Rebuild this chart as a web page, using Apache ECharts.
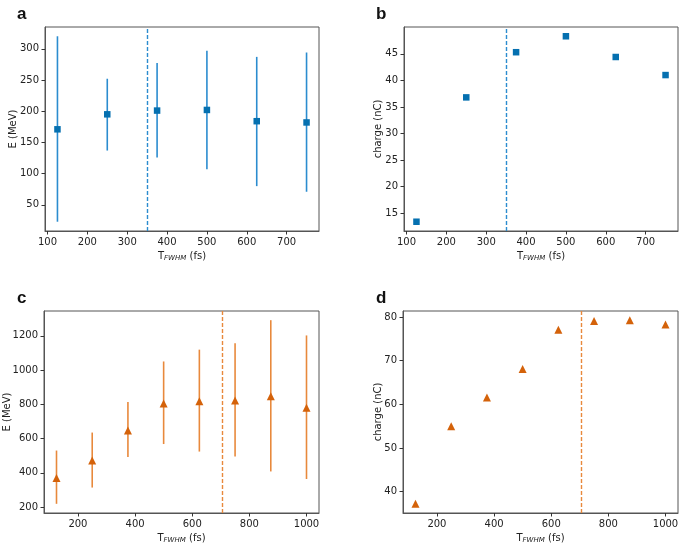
<!DOCTYPE html>
<html><head><meta charset="utf-8">
<script src="https://cdn.jsdelivr.net/npm/echarts@6/dist/echarts.min.js"></script>
<style>html,body{margin:0;padding:0;background:#fff}#c{width:685px;height:545px}</style>
</head><body><div id="c"></div>
<script>
// ---- data ----
const tAB = [125, 250, 375, 500, 625, 750];
const eA = [171, 195, 201, 202, 184, 182];
const eALow = [23, 137, 126, 107, 80, 71];
const eAHigh = [320, 252, 277, 297, 287, 294];
const qB = [13.4, 36.8, 45.3, 48.3, 44.4, 41.0];
const tCD = [125, 250, 375, 500, 625, 750, 875, 1000];
const eC = [370, 472, 647, 805, 818, 822, 847, 780];
const eCLow = [219, 314, 493, 568, 524, 495, 408, 364];
const eCHigh = [530, 635, 813, 1050, 1119, 1156, 1291, 1202];
const qD = [37.2, 55.0, 61.6, 68.1, 77.1, 79.1, 79.3, 78.3];
const thresholdAB = 351;
const thresholdCD = 705;
const ticksXAB = [100, 200, 300, 400, 500, 600, 700];
const ticksXCD = [200, 400, 600, 800, 1000];
const ticksYA = [50, 100, 150, 200, 250, 300];
const ticksYB = [15, 20, 25, 30, 35, 40, 45];
const ticksYC = [200, 400, 600, 800, 1000, 1200];
const ticksYD = [40, 50, 60, 70, 80];

const BLUE = '#0570b0', BLUE_EB = '#2b8ccf';
const ORANGE = '#d4620a', ORANGE_EB = '#e8893c';
const FONT = 'DejaVu Sans';
const FRAME = '#555';
const fmt = v => String(v);

function range(vals) {
  const mn = Math.min(...vals), mx = Math.max(...vals), m = (mx - mn) * 0.05;
  return [mn - m, mx + m];
}
function xAxis(idx, ticks, r) {
  return {
    type: 'value', gridIndex: idx, min: r[0], max: r[1],
    name: '{t|T}{s|FWHM}{t| (fs)}', nameLocation: 'middle', nameGap: 20,
    nameTextStyle: { rich: { t: { fontFamily: FONT, fontSize: 10, color: '#222' }, s: { fontFamily: FONT, fontSize: 7, fontStyle: 'italic', color: '#222', verticalAlign: 'bottom', padding: [4, 0, 0, 0] } } },
    axisLine: { show: true, onZero: false, lineStyle: { color: FRAME, width: 1 } },
    axisTick: { show: true, length: 3.5, customValues: ticks, lineStyle: { color: '#333' } },
    axisLabel: { customValues: ticks, formatter: fmt, fontFamily: FONT, fontSize: 10, color: '#222', margin: 6, showMinLabel: true, showMaxLabel: true },
    splitLine: { show: false }
  };
}
function yAxis(idx, ticks, r, name, gap) {
  return {
    type: 'value', gridIndex: idx, min: r[0], max: r[1],
    name: name, nameLocation: 'middle', nameGap: gap, nameMoveOverlap: false,
    nameTextStyle: { fontFamily: FONT, fontSize: 10, color: '#222' },
    axisLine: { show: true, onZero: false, lineStyle: { color: FRAME, width: 1 } },
    axisTick: { show: true, length: 3.5, customValues: ticks, lineStyle: { color: '#333' } },
    axisLabel: { customValues: ticks, formatter: fmt, fontFamily: FONT, fontSize: 10, color: '#222', margin: 6 },
    splitLine: { show: false }
  };
}
function errSeries(idx, xs, lo, hi, color) {
  return {
    type: 'custom', xAxisIndex: idx, yAxisIndex: idx, z: 2,
    data: xs.map((x, i) => [x, lo[i], hi[i]]),
    renderItem: function (params, api) {
      const p1 = api.coord([api.value(0), api.value(1)]);
      const p2 = api.coord([api.value(0), api.value(2)]);
      return { type: 'line', shape: { x1: p1[0], y1: p1[1], x2: p2[0], y2: p2[1] }, style: { stroke: color, lineWidth: 1.6 } };
    }
  };
}
function ptSeries(idx, xs, ys, color, symbol, size, thr, thrColor) {
  return {
    type: 'scatter', xAxisIndex: idx, yAxisIndex: idx, z: 3,
    symbol: symbol, symbolSize: size,
    itemStyle: { color: color, opacity: 1 },
    data: xs.map((x, i) => [x, ys[i]]),
    markLine: {
      silent: true, symbol: 'none', animation: false,
      label: { show: false },
      lineStyle: { color: thrColor, type: [4, 2], width: 1.4, opacity: 1 },
      data: [{ xAxis: thr }]
    }
  };
}

const xrAB = range(tAB), xrCD = range(tCD);
const yrA = range(eALow.concat(eAHigh));
const yrB = range(qB);
const yrC = range(eCLow.concat(eCHigh));
const yrD = range(qD);

const grids = [
  { left: 45, top: 27, width: 274, height: 204 },
  { left: 404, top: 27, width: 274, height: 204 },
  { left: 44, top: 311, width: 275, height: 205 },
  { left: 403, top: 311, width: 275, height: 205 }
].map(g => Object.assign(g, { show: true, borderColor: FRAME, borderWidth: 1, backgroundColor: 'transparent' }));

const chart = echarts.init(document.getElementById('c'), null, { renderer: 'canvas' });
chart.setOption({
  animation: false,
  backgroundColor: '#fff',
  title: [
    { text: 'a', left: 12, top: 1 },
    { text: 'b', left: 371, top: 1 },
    { text: 'c', left: 12, top: 285 },
    { text: 'd', left: 371, top: 285 }
  ].map(t => Object.assign(t, { textStyle: { fontFamily: 'Liberation Sans', fontWeight: 'bold', fontSize: 17, color: '#111' } })),
  grid: grids,
  xAxis: [xAxis(0, ticksXAB, xrAB), xAxis(1, ticksXAB, xrAB), xAxis(2, ticksXCD, xrCD), xAxis(3, ticksXCD, xrCD)],
  yAxis: [
    yAxis(0, ticksYA, yrA, 'E (MeV)', 27),
    yAxis(1, ticksYB, yrB, 'charge (nC)', 21),
    yAxis(2, ticksYC, yrC, 'E (MeV)', 32),
    yAxis(3, ticksYD, yrD, 'charge (nC)', 20)
  ],
  series: [
    errSeries(0, tAB, eALow, eAHigh, BLUE_EB),
    ptSeries(0, tAB, eA, BLUE, 'rect', 6.5, thresholdAB, BLUE_EB),
    ptSeries(1, tAB, qB, BLUE, 'rect', 6.5, thresholdAB, BLUE_EB),
    errSeries(2, tCD, eCLow, eCHigh, ORANGE_EB),
    ptSeries(2, tCD, eC, ORANGE, 'triangle', 8, thresholdCD, ORANGE_EB),
    ptSeries(3, tCD, qD, ORANGE, 'triangle', 8, thresholdCD, ORANGE_EB)
  ]
});
</script></body></html>
